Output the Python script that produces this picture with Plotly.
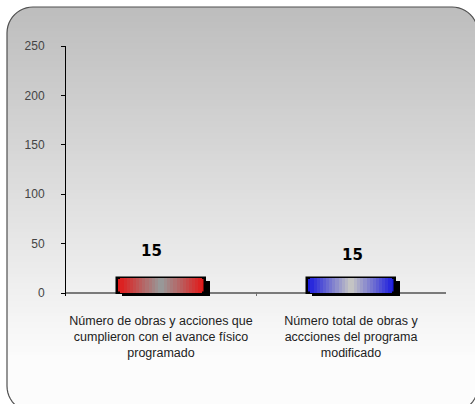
import plotly.graph_objects as go
import math

categories = ["Número de obras y acciones que cumplieron con el avance físico programado",
              "Número total de obras y accciones del programa modificado"]
tick_labels = ["Número de obras y acciones que<br>cumplieron con el avance físico<br>programado",
               "Número total de obras y<br>accciones del programa<br>modificado"]
values = [15, 15]
y_ticks = [0, 50, 100, 150, 200, 250]

W, H = 475, 404
L, R, T, B = 66, 446, 46, 296
Y0, Y1 = -3, 250


def px_x(px):
    return (px - L) / (R - L)


def px_y(py):
    return (B - py) / (B - T)


def lerp(c1, c2, t):
    return "rgb(%d,%d,%d)" % tuple(round(a + (b - a) * t) for a, b in zip(c1, c2))


# Rounded frame geometry (pixels)
fx0, fy0, fx1, fy1, rad = 7, 7, 478, 412, 26


def edges_at(py):
    if py < fy0 + rad:
        dy = fy0 + rad - py
        dx = rad - math.sqrt(max(rad * rad - dy * dy, 0))
    elif py > fy1 - rad:
        dy = py - (fy1 - rad)
        dx = rad - math.sqrt(max(rad * rad - dy * dy, 0))
    else:
        dx = 0
    return fx0 + dx, fx1 - dx


shapes = []
top_c = (189, 189, 189)
bot_c = (252, 252, 252)
step = 3
py = fy0
while py < fy1:
    pa, pb = py, min(py + step, fy1)
    ys = [pa + (pb - pa) * k / 3 for k in range(4)]
    left = [edges_at(y)[0] for y in ys]
    right = [edges_at(y)[1] for y in ys]
    path = "M %f,%f" % (px_x(left[0]), px_y(ys[0]))
    for xl, y in zip(left[1:], ys[1:]):
        path += " L %f,%f" % (px_x(xl), px_y(y))
    for xr, y in zip(reversed(right), reversed(ys)):
        path += " L %f,%f" % (px_x(xr), px_y(y))
    path += " Z"
    t = ((pa + pb) / 2 - fy0) / (fy1 - fy0)
    col = lerp(top_c, bot_c, min(t * 1.15, 1))
    shapes.append(dict(type="path", xref="paper", yref="paper", path=path,
                       fillcolor=col, line=dict(width=0), layer="below"))
    py = pb

# Border path
n = 12
pts = []
corners = [(fx1 - rad, fy0 + rad, -90, 0), (fx1 - rad, fy1 - rad, 0, 90),
           (fx0 + rad, fy1 - rad, 90, 180), (fx0 + rad, fy0 + rad, 180, 270)]
for cx, cy, a0, a1 in corners:
    for k in range(n + 1):
        a = math.radians(a0 + (a1 - a0) * k / n)
        pts.append((cx + rad * math.cos(a), cy + rad * math.sin(a)))
path = "M " + " L ".join("%f,%f" % (px_x(x), px_y(y)) for x, y in pts) + " Z"
shapes.append(dict(type="path", xref="paper", yref="paper", path=path,
                   line=dict(color="#505050", width=1.2), layer="below"))

fig = go.Figure()

BW = 0.46
dx = 5 / (R - L) * 2
# shadow
fig.add_trace(go.Bar(x=categories, y=values, base=[-3, -3], width=BW,
                     offset=-BW / 2 + dx, marker=dict(color="black", line=dict(width=0)),
                     hoverinfo="skip", showlegend=False))

edge_cols = [(226, 24, 24), (28, 28, 222)]
center_cols = [(152, 152, 152), (196, 196, 196)]
N = 14
for i in range(N):
    t = i / (N - 1)
    w = BW * (1 - i / N)
    cols = [lerp(edge_cols[j], center_cols[j], t) for j in range(2)]
    line = dict(color="black", width=2.5) if i == 0 else dict(width=0)
    fig.add_trace(go.Bar(x=categories, y=values, width=w,
                         marker=dict(color=cols, line=line),
                         hoverinfo="skip", showlegend=False))

annotations = []
xshifts = [-10, 1]
yshifts = [27, 23]
for j, (c, v) in enumerate(zip(categories, values)):
    annotations.append(dict(x=c, y=v, text="<b>%d</b>" % v, showarrow=False,
                            xshift=xshifts[j], yshift=yshifts[j],
                            font=dict(family="DejaVu Sans", size=15, color="black")))

fig.update_layout(
    width=W, height=H,
    margin=dict(l=L, r=W - R, t=T, b=H - B, autoexpand=False),
    paper_bgcolor="white", plot_bgcolor="rgba(0,0,0,0)",
    barmode="overlay", bargap=0,
    shapes=shapes, annotations=annotations,
    font=dict(family="Liberation Sans", size=12, color="#222"),
    xaxis=dict(type="category", tickvals=categories, ticktext=tick_labels,
               range=[-0.5, 1.5], showgrid=False, showline=False, zeroline=False,
               ticks="inside", tickson="boundaries", ticklen=4, tickcolor="#707070",
               tickangle=0, automargin=False,
               ticklabelstandoff=15, tickfont=dict(size=12.5, color="#222")),
    yaxis=dict(range=[Y0, Y1], tickvals=y_ticks, showgrid=False, showline=True,
               linecolor="black", linewidth=1, ticks="outside", ticklen=4,
               tickcolor="black", zeroline=True, zerolinecolor="#7a7a7a",
               zerolinewidth=2, ticklabelstandoff=14, automargin=False,
               tickfont=dict(size=12, color="#444")),
)

fig.write_html("out.html", config={"displayModeBar": False},
               post_script="document.body.style.margin='0';document.body.style.overflow='hidden';")
